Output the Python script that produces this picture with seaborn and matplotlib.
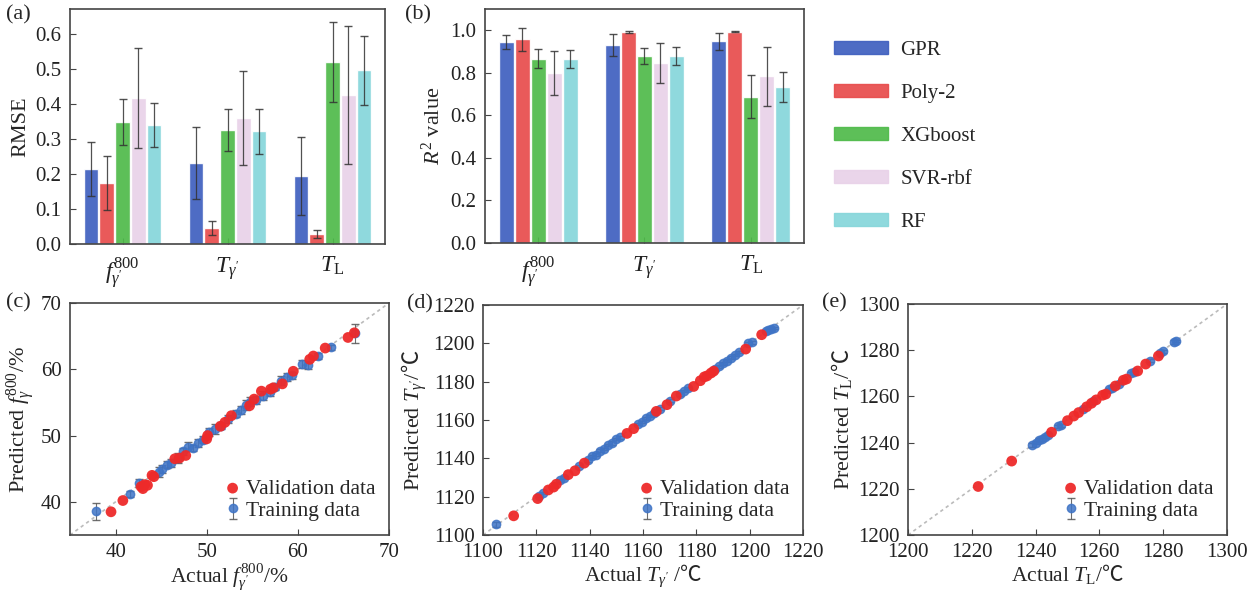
import matplotlib
matplotlib.use("Agg")
import matplotlib.pyplot as plt
import pandas as pd
import seaborn as sns

# ---- bar data (a) RMSE and (b) R2 ----
targets = [r"$f_{\gamma'}^{800}$", r"$T_{\gamma'}$", r"$T_{\mathrm{L}}$"]
models = ["GPR", "Poly-2", "XGboost", "SVR-rbf", "RF"]
colors = ["#3f5fbf", "#e84c4c", "#4fba4a", "#e9d2e9", "#86d6da"]

rmse_gpr = [0.214, 0.230, 0.195]
rmse_poly = [0.173, 0.046, 0.029]
rmse_xgb = [0.348, 0.325, 0.520]
rmse_svr = [0.416, 0.359, 0.425]
rmse_rf = [0.340, 0.321, 0.495]
rmse_err_gpr = [0.076, 0.103, 0.111]
rmse_err_poly = [0.077, 0.020, 0.012]
rmse_err_xgb = [0.065, 0.059, 0.114]
rmse_err_svr = [0.143, 0.133, 0.197]
rmse_err_rf = [0.063, 0.063, 0.098]

r2_gpr = [0.945, 0.932, 0.948]
r2_poly = [0.957, 0.992, 0.994]
r2_xgb = [0.866, 0.879, 0.688]
r2_svr = [0.800, 0.846, 0.784]
r2_rf = [0.866, 0.879, 0.735]
r2_err_gpr = [0.031, 0.051, 0.041]
r2_err_poly = [0.053, 0.003, 0.003]
r2_err_xgb = [0.044, 0.038, 0.100]
r2_err_svr = [0.103, 0.092, 0.138]
r2_err_rf = [0.041, 0.042, 0.071]

# ---- scatter data (c) f_gamma' ----
c_val_x = [39.5, 40.8, 42.8, 43.0, 43.2, 43.5, 44.0, 44.2, 46.5, 47.0, 47.7, 50.0, 50.1, 51.5, 52.0,
           52.7, 54.7, 55.2, 56.0, 57.0, 57.3, 58.3, 59.5, 61.3, 61.7, 63.0, 65.5, 66.2]
c_val_y = [38.5, 40.2, 42.3, 42.0, 42.6, 42.5, 44.0, 43.8, 46.5, 46.6, 47.0, 49.5, 50.0, 51.4, 52.0,
           53.0, 54.5, 55.5, 56.7, 57.0, 57.2, 57.8, 59.7, 61.5, 62.0, 63.2, 64.8, 65.5]
c_tr_x = [37.8, 41.6, 42.6, 44.8, 45.1, 45.6, 46.1, 46.8, 47.4, 48.0, 48.5, 49.0, 49.6, 50.3, 50.9, 51.6, 52.3,
          53.2, 53.8, 54.3, 54.8, 55.4, 56.2, 56.9, 57.5, 58.2, 58.8, 59.4, 60.5, 61.1, 62.2, 63.6, 66.3]
c_tr_y = [38.6, 41.2, 42.9, 44.5, 45.0, 45.6, 45.9, 46.6, 47.6, 48.3, 48.1, 48.9, 49.4, 50.6, 51.0, 51.5, 52.5,
          53.3, 53.9, 54.6, 55.1, 55.4, 56.0, 56.6, 57.4, 58.3, 58.9, 59.1, 60.8, 60.6, 62.0, 63.3, 65.4]
c_tr_err = [1.3, 0.5, 0.6, 0.7, 0.6, 0.5, 0.6, 0.8, 0.6, 0.7, 0.5, 0.6, 0.5, 0.6, 0.7, 0.5, 0.6,
            0.5, 0.6, 0.8, 0.7, 0.6, 0.7, 0.6, 0.5, 0.7, 0.6, 0.5, 0.6, 0.5, 0.5, 0.4, 1.4]

# ---- scatter data (d) T_gamma' ----
d_val_x = [1111.5, 1120.5, 1124.5, 1126.5, 1127.5, 1132, 1134.5, 1138, 1154, 1156.5, 1165, 1169, 1172.5,
           1179, 1181.5, 1183, 1184, 1185.5, 1186.5, 1198.5, 1204.5]
d_val_y = [1110, 1119, 1123.5, 1125, 1126.5, 1131.5, 1133.5, 1137.5, 1153, 1155.5, 1164.5, 1168, 1172.5,
           1177.5, 1180.5, 1182.5, 1183, 1184.5, 1185.5, 1197, 1204.5]
d_tr_x = [1105, 1121, 1122.5, 1129, 1130.5, 1136, 1139.5, 1141, 1142.5, 1144, 1145.5, 1147, 1148.5, 1150,
          1151.5, 1158, 1159.5, 1161, 1162.5, 1164, 1166.5, 1170, 1174, 1175.5, 1177, 1187, 1188.5, 1190,
          1191.5, 1193, 1194.5, 1196, 1199.5, 1201, 1206, 1207, 1208, 1209]
d_tr_y = [1105.5, 1120.5, 1122, 1128.5, 1130, 1136, 1139, 1141, 1142, 1144, 1145, 1147, 1148, 1150,
          1151, 1158, 1159, 1161, 1162, 1163.5, 1166, 1170, 1173.5, 1175, 1176.5, 1186.5, 1188, 1189.5,
          1191, 1192.5, 1194, 1195.5, 1200, 1200.5, 1206.5, 1207, 1207.5, 1208]
d_tr_err = [1.3, 0.7, 0.6, 0.8, 0.7, 0.6, 0.7, 0.8, 0.6, 0.7, 0.6, 0.7, 0.8, 0.6,
            0.7, 0.6, 0.7, 0.8, 0.6, 0.7, 0.6, 0.7, 0.8, 0.6, 0.7, 0.6, 0.7, 0.8,
            0.6, 0.7, 0.6, 0.7, 0.8, 0.6, 0.7, 0.6, 0.7, 0.6]

# ---- scatter data (e) T_L ----
e_val_x = [1222, 1232.5, 1245, 1250, 1252, 1253.5, 1256, 1257.5, 1259, 1261, 1262, 1265, 1267.5, 1268.5,
           1272, 1274.5, 1278.5]
e_val_y = [1221, 1232, 1244.5, 1249.5, 1251.5, 1253, 1255.5, 1257, 1258.5, 1260.5, 1261, 1264.5, 1267, 1267.5,
           1271, 1274, 1277.5]
e_tr_x = [1239, 1240, 1241, 1242, 1243, 1244, 1247, 1248, 1255, 1258, 1263, 1264, 1266, 1270, 1271, 1276,
          1279, 1280, 1283.5, 1284]
e_tr_y = [1239, 1240, 1241, 1241.5, 1242.5, 1243.5, 1247, 1247.5, 1254.5, 1258, 1263, 1263.5, 1265.5, 1270,
          1270.5, 1275.5, 1279, 1279.5, 1283.5, 1284]
e_tr_err = [0.7, 0.6, 0.8, 0.7, 0.6, 0.7, 0.8, 0.6, 0.7, 0.6, 0.7, 0.8, 0.6, 0.7, 0.6, 0.7,
            0.8, 0.6, 0.7, 0.6]

sns.set_style("ticks")
plt.rcParams["font.family"] = ["Liberation Serif", "DejaVu Serif", "Noto Sans CJK SC"]
plt.rcParams["mathtext.fontset"] = "custom"
plt.rcParams["mathtext.rm"] = "Liberation Serif"
plt.rcParams["mathtext.it"] = "Liberation Serif:italic"
plt.rcParams["mathtext.bf"] = "Liberation Serif:bold"
plt.rcParams["mathtext.sf"] = "Noto Sans CJK SC"
plt.rcParams["font.size"] = 15
plt.rcParams["axes.edgecolor"] = "#444444"
plt.rcParams["axes.linewidth"] = 1.2
plt.rcParams["xtick.direction"] = "in"
plt.rcParams["ytick.direction"] = "in"
plt.rcParams["xtick.color"] = "#444444"
plt.rcParams["ytick.color"] = "#444444"
plt.rcParams["xtick.labelcolor"] = "#222222"
plt.rcParams["ytick.labelcolor"] = "#222222"
plt.rcParams["xtick.major.pad"] = 6
plt.rcParams["ytick.major.pad"] = 6

W, H = 1260, 598
fig = plt.figure(figsize=(W / 100, H / 100), dpi=100)


def box(left, top, right, bottom):
    return [left / W, 1 - bottom / H, (right - left) / W, (bottom - top) / H]


ax_a = fig.add_axes(box(70, 9, 385, 244))
ax_b = fig.add_axes(box(485, 9, 804, 243))
ax_c = fig.add_axes(box(70, 303, 389, 535))
ax_d = fig.add_axes(box(483, 305, 803, 535))
ax_e = fig.add_axes(box(908, 304, 1227, 535))


def bar_panel(ax, vals, errs, ylabel, ylim, yticks):
    rows = []
    for m, v in zip(models, vals):
        for t, x in zip(targets, v):
            rows.append({"target": t, "model": m, "value": x})
    df = pd.DataFrame(rows)
    sns.barplot(data=df, x="target", y="value", hue="model", palette=colors, width=0.75,
                gap=0.06, errorbar=None, saturation=1, alpha=0.92, legend=False, ax=ax)
    for cont, e in zip(ax.containers, errs):
        for bar, ee in zip(cont, e):
            ax.errorbar(bar.get_x() + bar.get_width() / 2, bar.get_height(), yerr=ee,
                        fmt="none", ecolor="#333333", elinewidth=0.9, capsize=3, alpha=0.85, zorder=5)
    ax.set_xlim(-0.5, 2.5)
    ax.set_ylim(*ylim)
    ax.set_yticks(yticks)
    ax.set_xlabel("")
    ax.set_ylabel(ylabel, fontsize=16)
    ax.tick_params(axis="x", pad=8, labelsize=17)
    ax.tick_params(length=4)


bar_panel(ax_a, [rmse_gpr, rmse_poly, rmse_xgb, rmse_svr, rmse_rf],
          [rmse_err_gpr, rmse_err_poly, rmse_err_xgb, rmse_err_svr, rmse_err_rf],
          "RMSE", (0, 0.67), [0.0, 0.1, 0.2, 0.3, 0.4, 0.5, 0.6])
ax_a.set_yticklabels(["0.0", "0.1", "0.2", "0.3", "0.4", "0.5", "0.6"])
bar_panel(ax_b, [r2_gpr, r2_poly, r2_xgb, r2_svr, r2_rf],
          [r2_err_gpr, r2_err_poly, r2_err_xgb, r2_err_svr, r2_err_rf],
          r"$R^2$ value", (0, 1.1), [0.0, 0.2, 0.4, 0.6, 0.8, 1.0])
ax_b.set_yticklabels(["0.0", "0.2", "0.4", "0.6", "0.8", "1.0"])

handles = [plt.Rectangle((0, 0), 1, 1, color=c, alpha=0.92) for c in colors]
fig.legend(handles, models, loc="upper left", bbox_to_anchor=(815 / W, 1 - 22 / H), frameon=False,
           fontsize=15, labelspacing=1.15, handlelength=2.6, handleheight=0.6, handletextpad=0.6)


def scatter_panel(ax, vx, vy, tx, ty, te, lim, ticks, xlabel, ylabel):
    ax.axline((lim[0], lim[0]), slope=1, ls=(0, (2, 2)), color="#bbbbbb", lw=1.2, zorder=1)
    ax.errorbar(tx, ty, yerr=te, fmt="o", color="#3f74c6", ms=6, mec="#3f74c6", alpha=0.85,
                ecolor="#555555", elinewidth=0.8, capsize=3, label="Training data", zorder=3)
    sns.scatterplot(x=vx, y=vy, color="#ee2a2a", s=60, edgecolor="none", alpha=0.95,
                    label="Validation data", ax=ax, zorder=4)
    ax.set_xlim(*lim)
    ax.set_ylim(*lim)
    ax.set_xticks(ticks)
    ax.set_yticks(ticks)
    ax.set_xlabel(xlabel, fontsize=15.5, labelpad=0)
    ax.set_ylabel(ylabel, fontsize=16, labelpad=3)
    ax.tick_params(length=4)
    h, l = ax.get_legend_handles_labels()
    order = [l.index("Validation data"), l.index("Training data")]
    ax.legend([h[i] for i in order], [l[i] for i in order], loc="lower right", frameon=False,
              fontsize=15.5, handletextpad=0.1, labelspacing=0.1, borderaxespad=0.25, handlelength=1.0)


scatter_panel(ax_c, c_val_x, c_val_y, c_tr_x, c_tr_y, c_tr_err, (35, 70), [40, 50, 60, 70],
              r"Actual $f_{\gamma'}^{800}$/%", r"Predicted $f_{\gamma}^{800}$/%")
scatter_panel(ax_d, d_val_x, d_val_y, d_tr_x, d_tr_y, d_tr_err, (1100, 1220),
              [1100, 1120, 1140, 1160, 1180, 1200, 1220],
              r"Actual $T_{\gamma'}$ /$\mathsf{℃}$", r"Predicted $T_{\gamma'}$/$\mathsf{℃}$")
scatter_panel(ax_e, e_val_x, e_val_y, e_tr_x, e_tr_y, e_tr_err, (1200, 1300),
              [1200, 1220, 1240, 1260, 1280, 1300],
              r"Actual $T_{\mathrm{L}}$/$\mathsf{℃}$", r"Predicted $T_{\mathrm{L}}$/$\mathsf{℃}$")

for lab, x, y in [("(a)", 6, 15), ("(b)", 405, 15), ("(c)", 6, 303), ("(d)", 407, 304), ("(e)", 822, 303)]:
    fig.text(x / W, 1 - y / H, lab, fontsize=16, va="center", ha="left")

fig.savefig("out.png", dpi=100)
